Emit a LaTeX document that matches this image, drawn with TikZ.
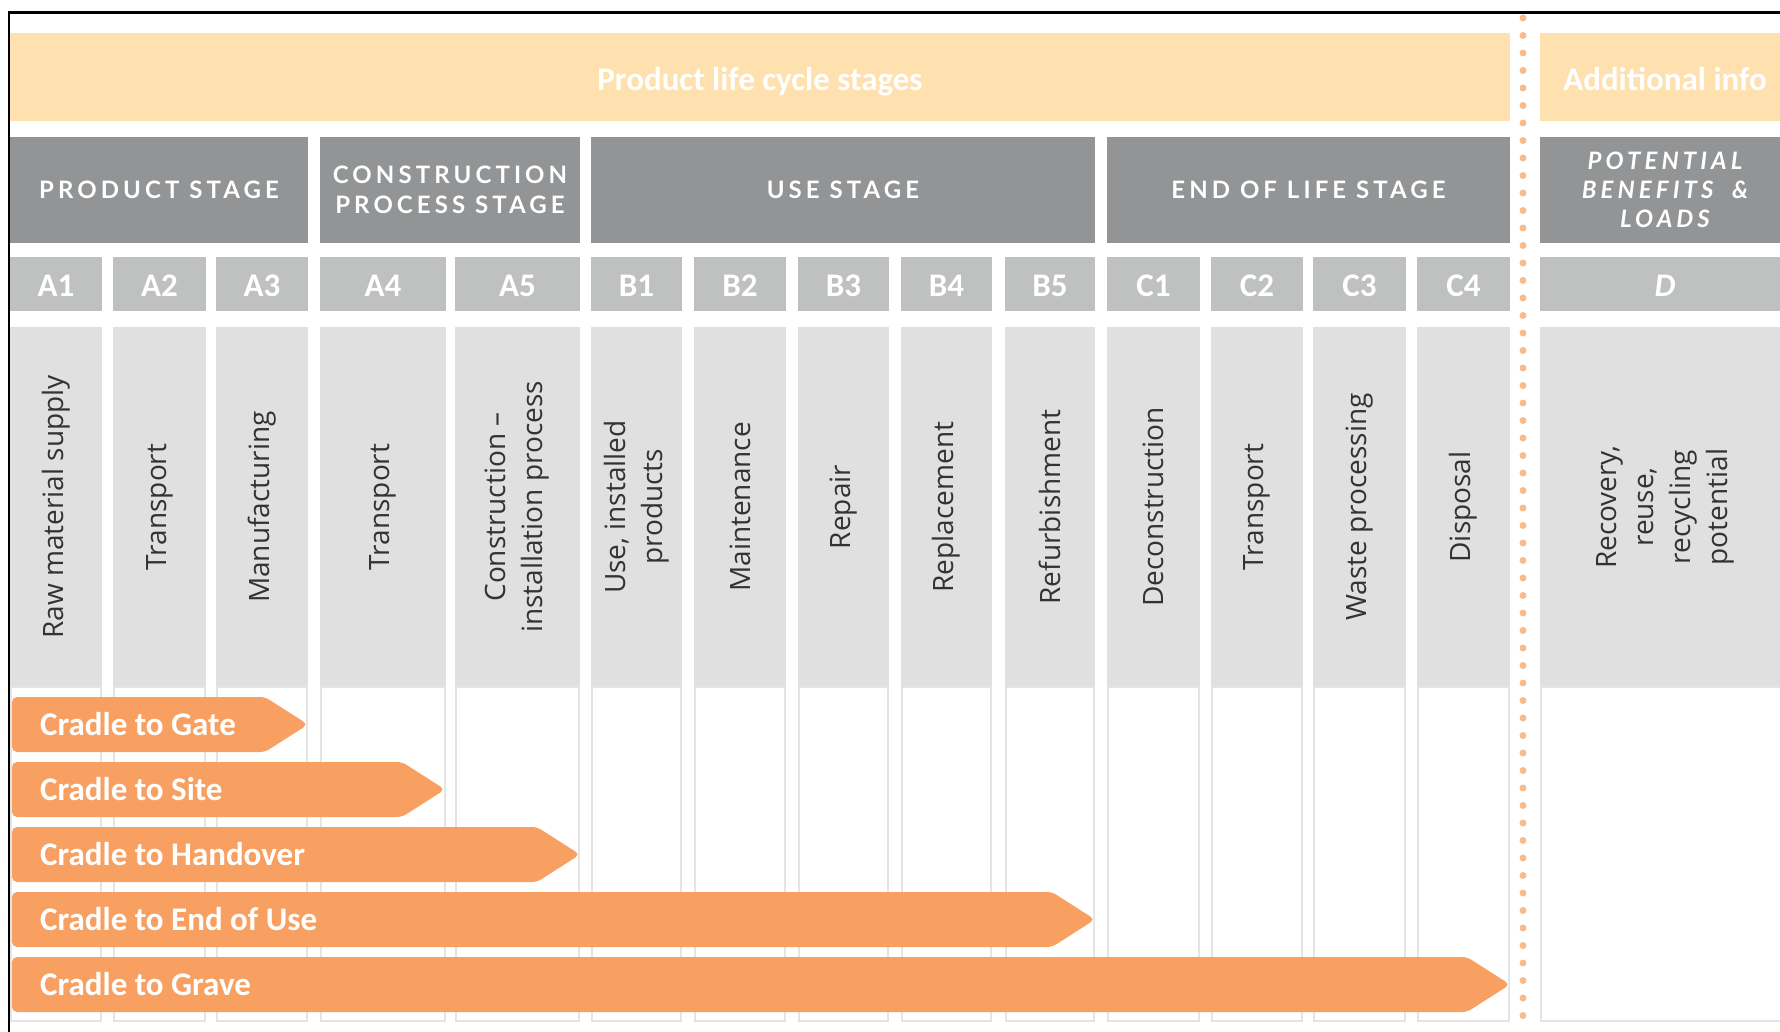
\documentclass[tikz,border=0pt]{standalone}
\usepackage{fontspec}
\usepackage{xcolor}
\setmainfont{Open Sans}
\newfontfamily\calibrifont{Carlito}
\newfontfamily\stagefont[LetterSpace=17]{Lato}
\definecolor{peach}{HTML}{FEE1AF}
\definecolor{stagegray}{HTML}{939495}
\definecolor{codegray}{HTML}{BFC0C0}
\definecolor{descgray}{HTML}{E0E0E0}
\definecolor{cellline}{HTML}{E4E4E4}
\definecolor{barorange}{HTML}{F7A062}
\definecolor{dotorange}{HTML}{FABB8C}
\definecolor{desctext}{HTML}{333333}

\begin{document}
\begin{tikzpicture}[
  x=1pt, y=-1pt,
  banner/.style={fill=peach, text=white, inner sep=0pt, minimum height=88pt,
    text height=27pt, text depth=0pt,
    font=\calibrifont\bfseries\fontsize{33}{40}\selectfont},
  stagebox/.style={fill=stagegray, text=white, inner sep=0pt, minimum height=106pt,
    align=center, font=\stagefont\bfseries\fontsize{24}{30}\selectfont},
  codebox/.style={text=white, inner sep=0pt, text height=21pt, text depth=0pt,
    font=\calibrifont\bfseries\fontsize{33}{40}\selectfont},
  desclabel/.style={rotate=90, align=center, text=desctext, inner sep=0pt,
    font=\fontsize{28}{37}\selectfont},
  cradle/.style={fill=barorange, rounded corners=5pt},
  cradletext/.style={anchor=west, text=white, inner sep=0pt,
    font=\calibrifont\bfseries\fontsize{33}{40}\selectfont}
  ]
\useasboundingbox (0,0) rectangle (1780,1032);

% Top banners
\node[banner, minimum width=1500pt] (lifecycle) at (760,77) {Product life cycle stages};
\node[banner, minimum width=250pt] (additional) at (1665,77) {Additional info};

% Stage headers
\node[stagebox, minimum width=298pt] (product) at (159,190) {PRODUCT STAGE};
\node[stagebox, minimum width=260pt] (construction) at (450,190) {CONSTRUCTION\\PROCESS STAGE};
\node[stagebox, minimum width=504pt] (use) at (843,190) {USE STAGE};
\node[stagebox, minimum width=403pt] (endoflife) at (1308.5,190) {END OF LIFE STAGE};
\node[stagebox, minimum width=250pt, font=\stagefont\bfseries\itshape\fontsize{24}{29}\selectfont]
  (potential) at (1665,190) {POTENTIAL\\BENEFITS \ \&\\LOADS};

% Modules
\foreach \id/\lab/\l/\r/\txt in {
  A1/A1/10/102/{Raw material supply},
  A2/A2/113/206/Transport,
  A3/A3/216/308/Manufacturing,
  A4/A4/320/446/Transport,
  A5/A5/455/580/{Construction --\\installation process},
  B1/B1/591/682/{Use, installed\\products},
  B2/B2/694/786/Maintenance,
  B3/B3/798/889/Repair,
  B4/B4/901/992/Replacement,
  B5/B5/1005/1095/Refurbishment,
  C1/C1/1107/1200/Deconstruction,
  C2/C2/1211/1303/Transport,
  C3/C3/1313/1406/{Waste processing},
  C4/C4/1417/1510/Disposal,
  D/{\itshape D}/1540/1790/{Recovery,\\reuse,\\recycling\\potential}} {
  \fill[codegray] (\l,257) rectangle (\r,311);
  \fill[descgray] (\l,327) rectangle (\r,687);
  \draw[cellline, line width=1.5pt] (\l+1,687) rectangle (\r-1,1021);
  \node[codebox] (code-\id) at ({(\l+\r)/2},286) {\lab};
  \node[desclabel] (desc-\id) at ({(\l+\r)/2},507) {\txt};
}

% Scenario arrows
\foreach \name/\top/\tip/\txt in {
  gate/697/308/Cradle to Gate,
  site/762/445/Cradle to Site,
  handover/827/580/Cradle to Handover,
  enduse/892/1095/Cradle to End of Use,
  grave/957/1510/Cradle to Grave} {
  \fill[cradle] (12,\top) -- (\tip-43,\top) -- (\tip,\top+27.5) -- (\tip-43,\top+55)
    -- (12,\top+55) -- cycle;
  \node[cradletext] (\name) at (40,\top+27.5) {\txt};
}

% Separator and frame
\draw[dotorange, line width=7pt, line cap=round, dash pattern=on 0pt off 17.5pt]
  (1523,18) -- (1523,1032);
\draw[black, line width=2.5pt] (9,1032) -- (9,12.5) -- (1780,12.5);
\end{tikzpicture}
\end{document}
